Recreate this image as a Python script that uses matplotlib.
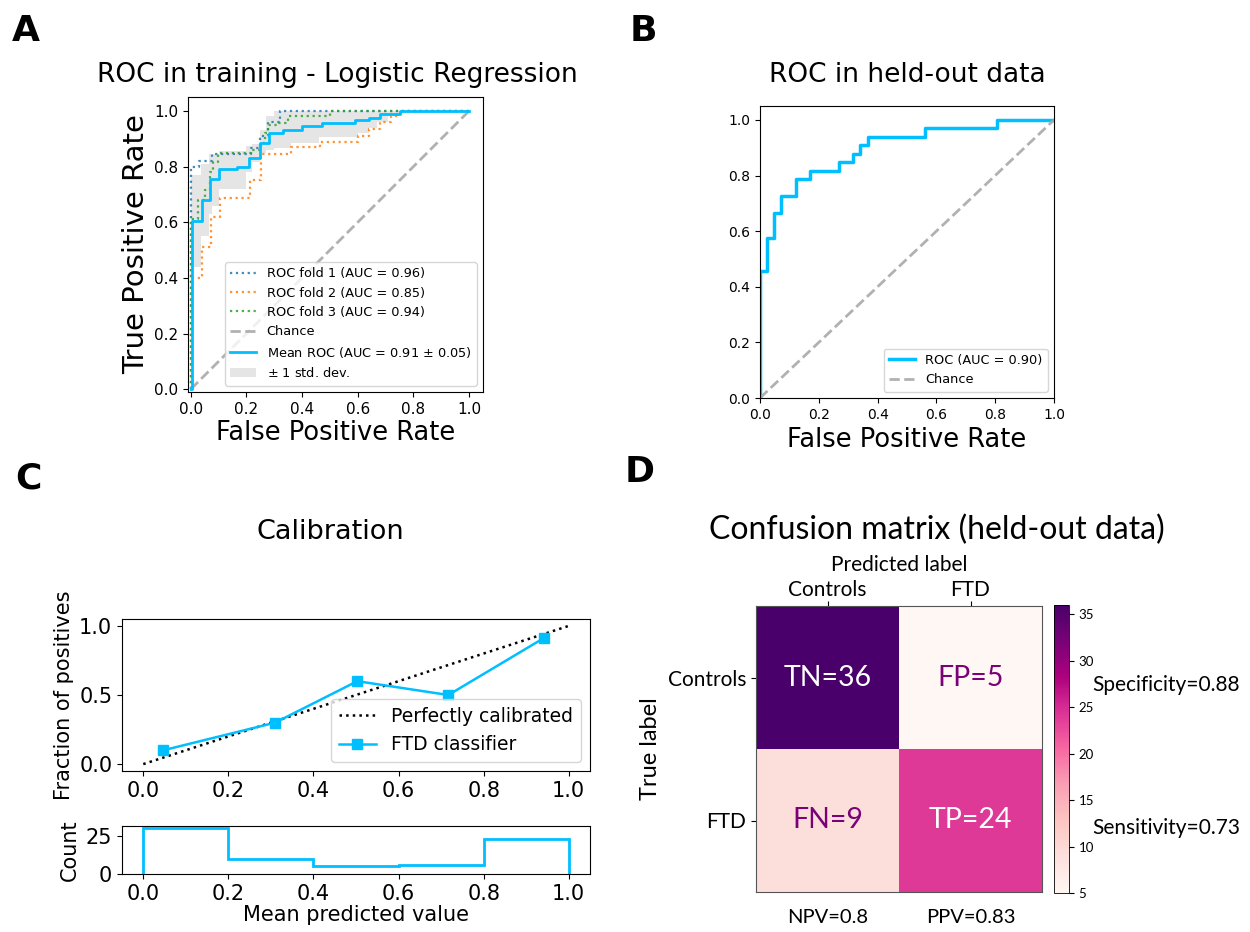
import matplotlib
matplotlib.use("Agg")
import matplotlib.pyplot as plt
import numpy as np

# ---------------- data ----------------
# Panel A: cross-validation ROC folds (step curves: x breakpoints, y levels)
fold1_fpr = [0, 0, 0.03, 0.075, 0.218, 0.247, 0.277, 0.319, 1.0]
fold1_tpr = [0, 0.80, 0.82, 0.845, 0.865, 0.91, 0.96, 1.0, 1.0]
fold2_fpr = [0, 0.005, 0.039, 0.072, 0.105, 0.212, 0.253, 0.36, 0.465, 0.60, 0.64, 0.68, 0.72, 0.75, 1.0]
fold2_tpr = [0, 0.40, 0.512, 0.62, 0.687, 0.753, 0.845, 0.869, 0.888, 0.91, 0.935, 0.96, 0.98, 1.0, 1.0]
fold3_fpr = [0, 0, 0.027, 0.05, 0.07, 0.08, 0.098, 0.218, 0.253, 0.265, 0.277, 0.31, 0.35, 0.50, 1.0]
fold3_tpr = [0, 0.61, 0.68, 0.717, 0.782, 0.818, 0.849, 0.861, 0.885, 0.92, 0.95, 0.957, 0.98, 1.0, 1.0]
fold_labels = ["ROC fold 1 (AUC = 0.96)", "ROC fold 2 (AUC = 0.85)", "ROC fold 3 (AUC = 0.94)"]
fold_colors = ["tab:blue", "tab:orange", "tab:green"]

mean_fpr = [0, 0.005, 0.04, 0.07, 0.10, 0.165, 0.21, 0.25, 0.28, 0.33, 0.40, 0.47, 0.59, 0.64, 0.68, 0.75, 1.0]
mean_tpr = [0, 0.605, 0.68, 0.755, 0.79, 0.80, 0.83, 0.885, 0.92, 0.933, 0.947, 0.957, 0.967, 0.975, 0.99, 1.0, 1.0]
mean_label = "Mean ROC (AUC = 0.91 $\\pm$ 0.05)"

band_fpr = [0, 0.035, 0.065, 0.075, 0.10, 0.20, 0.22, 0.25, 0.27, 0.30, 0.36, 0.46, 0.60, 0.64, 0.67, 0.71, 0.75, 1.0]
band_lower = [0.44, 0.55, 0.63, 0.66, 0.72, 0.78, 0.815, 0.85, 0.86, 0.865, 0.885, 0.905, 0.92, 0.94, 0.96, 0.98, 1.0, 1.0]
band_upper = [0.77, 0.81, 0.845, 0.845, 0.855, 0.875, 0.88, 0.93, 0.98, 1.0, 1.0, 1.0, 1.0, 1.0, 1.0, 1.0, 1.0, 1.0]

chance = [0, 1]

# Panel B: held-out ROC
heldout_fpr = [0, 0, 0.024, 0.049, 0.073, 0.122, 0.171, 0.268, 0.317, 0.341, 0.366, 0.561, 0.805, 1.0]
heldout_tpr = [0, 0.455, 0.576, 0.667, 0.727, 0.788, 0.818, 0.848, 0.879, 0.909, 0.939, 0.970, 1.0, 1.0]

# Panel C: calibration
mean_predicted = [0.047, 0.31, 0.503, 0.717, 0.942]
frac_positives = [0.10, 0.30, 0.60, 0.50, 0.913]
hist_edges = [0.0, 0.2, 0.4, 0.6, 0.8, 1.0]
hist_counts = [30, 10, 5, 6, 23]

# Panel D: confusion matrix
class_names = ["Controls", "FTD"]
cm = [[36, 5], [9, 24]]
cm_names = [["TN", "FP"], ["FN", "TP"]]
col_metrics = ["NPV=0.8", "PPV=0.83"]
row_metrics = ["Specificity=0.88", "Sensitivity=0.73"]
cbar_ticks = [5, 10, 15, 20, 25, 30, 35]

# ---------------- layout helpers ----------------
W, H = 1250, 932
fig = plt.figure(figsize=(W / 100, H / 100), dpi=100)
fig.patch.set_facecolor("white")


def add_ax(l, t, r, b):
    return fig.add_axes([l / W, 1 - b / H, (r - l) / W, (b - t) / H])


def ftext(x, y, s, **kw):
    return fig.text(x / W, 1 - y / H, s, **kw)


SKY = "deepskyblue"

# ---------------- Panel A ----------------
axA = add_ax(188, 97, 483, 392)
for fx, fy, lab, col in zip([fold1_fpr, fold2_fpr, fold3_fpr],
                            [fold1_tpr, fold2_tpr, fold3_tpr],
                            fold_labels, fold_colors):
    axA.plot(fx, fy, drawstyle="steps-post", ls=":", lw=1.6, color=col, alpha=0.85, label=lab)
axA.plot(chance, chance, ls="--", lw=2, color="darkgrey", alpha=0.9, label="Chance")
axA.plot(mean_fpr, mean_tpr, drawstyle="steps-post", color=SKY, lw=2, label=mean_label)
axA.fill_between(band_fpr, band_lower, band_upper, step="post", color="grey", alpha=0.2,
                 lw=0, label="$\\pm$ 1 std. dev.")
axA.set_xlim(-0.01, 1.05)
axA.set_ylim(-0.01, 1.05)
axA.tick_params(labelsize=11)
axA.set_xlabel("False Positive Rate", fontsize=18.5, labelpad=2)
axA.set_ylabel("True Positive Rate", fontsize=21, labelpad=3)
axA.legend(loc="lower right", fontsize=9.3)
ftext(337, 75, "ROC in training - Logistic Regression", fontsize=19, ha="center", va="center")

# ---------------- Panel B ----------------
axB = add_ax(760, 106, 1054, 398)
axB.plot(heldout_fpr, heldout_tpr, drawstyle="steps-post", color=SKY, lw=2.5, label="ROC (AUC = 0.90)")
axB.plot(chance, chance, ls="--", lw=2, color="darkgrey", alpha=0.9, label="Chance")
axB.set_xlim(0, 1)
axB.set_ylim(0, 1.05)
axB.tick_params(labelsize=10)
axB.set_xlabel("False Positive Rate", fontsize=18.5, labelpad=4)
axB.legend(loc="lower right", fontsize=9.3)
ftext(907, 75, "ROC in held-out data", fontsize=19, ha="center", va="center")

# ---------------- Panel C ----------------
axC1 = add_ax(122, 619, 590, 771)
axC1.plot(chance, chance, "k:", lw=1.8, label="Perfectly calibrated")
axC1.plot(mean_predicted, frac_positives, "s-", color=SKY, lw=1.8, ms=7, label="FTD classifier")
axC1.set_xlim(-0.05, 1.05)
axC1.set_ylim(-0.05, 1.05)
axC1.set_yticks([0.0, 0.5, 1.0])
axC1.tick_params(labelsize=15)
axC1.set_ylabel("Fraction of positives", fontsize=15)
axC1.legend(loc="lower right", fontsize=13.5)
ftext(330, 532, "Calibration", fontsize=19.5, ha="center", va="center")

axC2 = add_ax(122, 826, 590, 874)
axC2.stairs(hist_counts, hist_edges, color=SKY, lw=2)
axC2.set_xlim(-0.05, 1.05)
axC2.set_ylim(0, 31.5)
axC2.set_yticks([0, 25])
axC2.tick_params(labelsize=15)
axC2.set_ylabel("Count", fontsize=15)
axC2.set_xlabel("Mean predicted value", fontsize=15, labelpad=1)
fig.align_ylabels([axC1, axC2])

# ---------------- Panel D ----------------
DF = "Lato"
axD = add_ax(756, 606, 1042, 892)
im = axD.imshow(np.array(cm), cmap="RdPu", vmin=5, vmax=36, aspect="auto")
axD.set_xticks([0, 1])
axD.set_yticks([0, 1])
axD.xaxis.tick_top()
axD.xaxis.set_label_position("top")
axD.tick_params(axis="x", pad=1)
axD.set_xticklabels(class_names, fontsize=15, family=DF)
axD.set_yticklabels(class_names, fontsize=15, family=DF)
axD.set_xlabel("Predicted label", fontsize=15, family=DF, labelpad=6)
axD.set_ylabel("True label", fontsize=17, family=DF, labelpad=5)
for sp in axD.spines.values():
    sp.set_linewidth(0.8)
    sp.set_color("#555555")
for i in range(2):
    for j in range(2):
        val = cm[i][j]
        col = "white" if val > 20 else "#7a0177"
        axD.text(j, i, f"{cm_names[i][j]}={val}", ha="center", va="center",
                 fontsize=20.5, color=col, family=DF)
for j, s in enumerate(col_metrics):
    axD.text(j, 1.68, s, ha="center", va="center", fontsize=14.5, family=DF, clip_on=False)
for i, s in enumerate(row_metrics):
    axD.text(1.85, i + 0.05, s, ha="left", va="center", fontsize=15, family=DF, clip_on=False)

cax = add_ax(1054, 605, 1069, 893)
cb = fig.colorbar(im, cax=cax, ticks=cbar_ticks)
cb.ax.tick_params(labelsize=9.5)
cb.outline.set_linewidth(0.6)
for t in cb.ax.get_yticklabels():
    t.set_family(DF)
ftext(937, 530, "Confusion matrix (held-out data)", fontsize=23, ha="center", va="center", family=DF)

# ---------------- panel letters ----------------
for x, y, s in [(12, 31, "A"), (630, 31, "B"), (15, 478, "C"), (625, 472, "D")]:
    ftext(x, y, s, fontsize=26, fontweight="bold", ha="left", va="center")

fig.savefig("out.png", dpi=100, facecolor="white")
